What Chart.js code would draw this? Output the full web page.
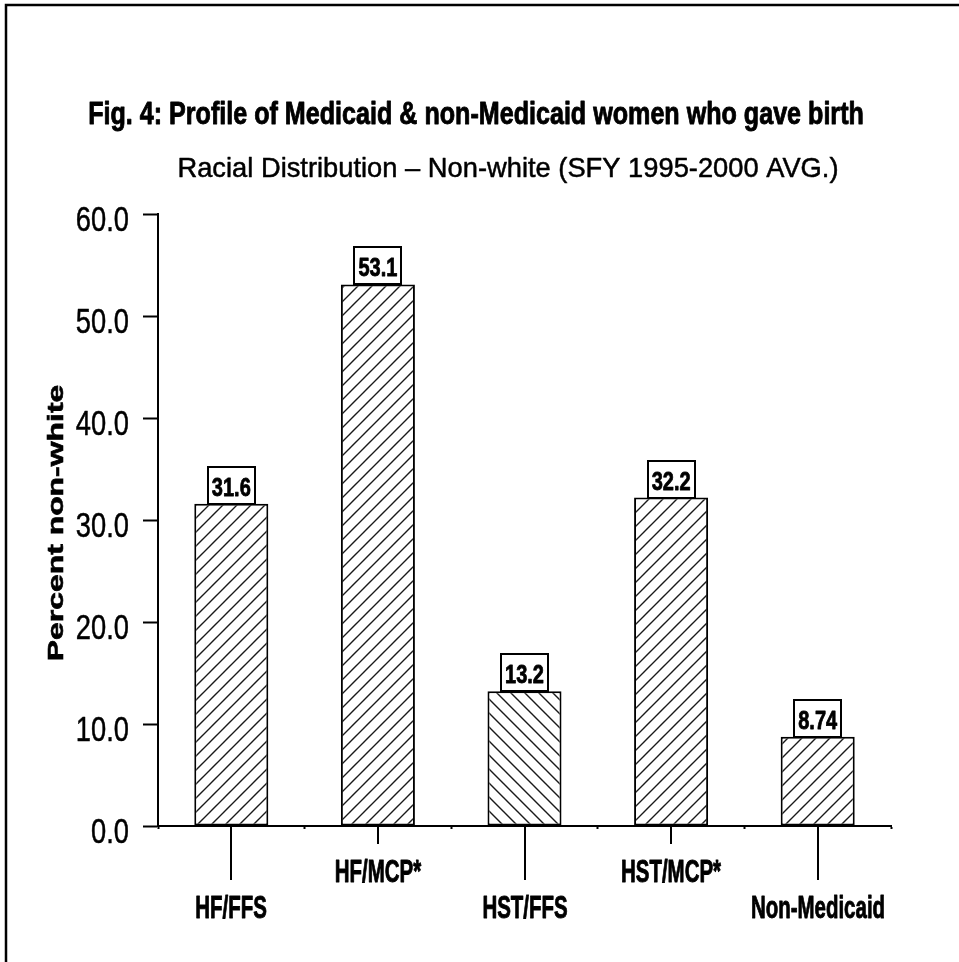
<!DOCTYPE html>
<html>
<head>
<meta charset="utf-8">
<script src="https://cdn.jsdelivr.net/npm/chart.js@4/dist/chart.umd.min.js"></script>
<style>
  html, body { margin: 0; padding: 0; background: #fff; }
  #wrap { width: 959px; height: 962px; }
</style>
</head>
<body>
<div id="wrap"><canvas id="chart" width="959" height="962"></canvas></div>
<script>
// Racial distribution, share of non-white mothers by payer group
const categories = ['HF/FFS', 'HF/MCP*', 'HST/FFS', 'HST/MCP*', 'Non-Medicaid'];
const percentNonWhite = [31.6, 53.1, 13.2, 32.2, 8.74];
const hatchDirection = ['/', '/', '\\', '/', '/'];
const yMin = 0;
const yMax = 60;
const yStep = 10;

const titleText = 'Fig. 4: Profile of Medicaid & non-Medicaid women who gave birth';
const subtitleText = 'Racial Distribution \u2013 Non-white (SFY 1995-2000 AVG.)';
const yTitle = 'Percent non-white';

const SANS = "'Liberation Sans', Arial, sans-serif";

// diagonal line fill for the bars
function makeHatch(dir) {
    const size = 14;
    const c = document.createElement('canvas');
    c.width = size;
    c.height = size;
    const g = c.getContext('2d');
    g.fillStyle = '#fff';
    g.fillRect(0, 0, size, size);
    g.strokeStyle = '#1a1a1a';
    g.lineWidth = 1.4;
    g.beginPath();
    if (dir === '/') {
        g.moveTo(-2, size + 2); g.lineTo(size + 2, -2);
        g.moveTo(-2, 2); g.lineTo(2, -2);
        g.moveTo(size - 2, size + 2); g.lineTo(size + 2, size - 2);
    } else {
        g.moveTo(-2, -2); g.lineTo(size + 2, size + 2);
        g.moveTo(size - 2, -2); g.lineTo(size + 2, 2);
        g.moveTo(-2, size - 2); g.lineTo(2, size + 2);
    }
    g.stroke();
    return g.createPattern(c, 'repeat');
}

// condensed lettering: squeeze the text horizontally around its anchor,
// optionally with a thin outline to make it heavier
function narrowText(ctx, text, x, y, font, sx, align, heavy) {
    ctx.save();
    ctx.translate(x, y);
    ctx.scale(sx, 1);
    ctx.font = font;
    ctx.fillStyle = '#000';
    ctx.textAlign = align;
    ctx.textBaseline = 'alphabetic';
    ctx.fillText(text, 0, 0);
    if (heavy) {
        ctx.strokeStyle = '#000';
        ctx.lineWidth = heavy;
        ctx.lineJoin = 'round';
        ctx.strokeText(text, 0, 0);
    }
    ctx.restore();
}

const framePlugin = {
    id: 'frame',
    beforeDraw(chart) {
        const ctx = chart.ctx;
        ctx.save();
        ctx.fillStyle = '#fff';
        ctx.fillRect(0, 0, chart.width, chart.height);
        ctx.strokeStyle = '#000';
        ctx.lineWidth = 2.5;
        ctx.beginPath();
        ctx.moveTo(6, chart.height);
        ctx.lineTo(6, 5);
        ctx.lineTo(chart.width, 5);
        ctx.stroke();
        ctx.restore();
    }
};

const headingPlugin = {
    id: 'heading',
    afterDraw(chart) {
        const ctx = chart.ctx;
        narrowText(ctx, titleText, 476, 124, 'bold 31px ' + SANS, 0.81, 'center', 0.9);
        narrowText(ctx, subtitleText, 508, 177, '28px ' + SANS, 0.975, 'center', 0.5);
    }
};

// axis lettering placed from the scales' own tick positions
const axisText = {
    id: 'axisText',
    afterDraw(chart) {
        const ctx = chart.ctx;
        const x = chart.scales.x;
        const y = chart.scales.y;

        y.ticks.forEach((t, i) => {
            const py = y.getPixelForTick(i);
            narrowText(ctx, t.value.toFixed(1), 129, py + 17, '35px ' + SANS, 0.78, 'right', 0.5);
        });

        ctx.save();
        ctx.strokeStyle = '#000';
        ctx.lineWidth = 2;
        categories.forEach((c, i) => {
            const px = Math.round(x.getPixelForTick(i));
            const low = i % 2 === 0;
            ctx.beginPath();
            ctx.moveTo(px, x.top);
            ctx.lineTo(px, x.top + (low ? 54 : 18));
            ctx.stroke();
            narrowText(ctx, c, px, low ? 918 : 882, 'bold 31px ' + SANS, 0.66, 'center', 0.9);
        });
        ctx.restore();

        // rotated axis title
        const mid = (y.top + y.bottom) / 2 + 3;
        ctx.save();
        ctx.translate(63, mid);
        ctx.rotate(-Math.PI / 2);
        ctx.scale(1.45, 1);
        ctx.font = 'bold 22px ' + SANS;
        ctx.fillStyle = '#000';
        ctx.strokeStyle = '#000';
        ctx.lineWidth = 0.6;
        ctx.textAlign = 'center';
        ctx.textBaseline = 'alphabetic';
        ctx.fillText(yTitle, 0, 0);
        ctx.strokeText(yTitle, 0, 0);
        ctx.restore();
    }
};

// boxed value above each bar
const valueBoxes = {
    id: 'valueBoxes',
    afterDatasetsDraw(chart) {
        const ctx = chart.ctx;
        const meta = chart.getDatasetMeta(0);
        meta.data.forEach((bar, i) => {
            const w = 47, h = 37;
            const left = Math.round(bar.x - w / 2);
            const top = Math.round(bar.y - h);
            ctx.save();
            ctx.fillStyle = '#fff';
            ctx.fillRect(left, top, w, h);
            ctx.strokeStyle = '#000';
            ctx.lineWidth = 2;
            ctx.strokeRect(left, top, w, h);
            ctx.restore();
            narrowText(ctx, String(percentNonWhite[i]), bar.x, bar.y - 8, 'bold 25px ' + SANS, 0.8, 'center', 0.8);
        });
    }
};

const ctx = document.getElementById('chart').getContext('2d');
new Chart(ctx, {
    type: 'bar',
    data: {
        labels: categories,
        datasets: [{
            data: percentNonWhite,
            backgroundColor: hatchDirection.map(makeHatch),
            borderColor: '#000',
            borderWidth: 2,
            borderSkipped: false,
            barPercentage: 0.505,
            categoryPercentage: 1
        }]
    },
    options: {
        responsive: false,
        animation: false,
        layout: {
            padding: { top: 214, right: 68, left: 0, bottom: 0 }
        },
        plugins: {
            legend: { display: false },
            tooltip: { enabled: false }
        },
        scales: {
            x: {
                grid: {
                    offset: true,
                    drawOnChartArea: false,
                    tickLength: 3,
                    tickColor: '#000',
                    tickWidth: 2
                },
                border: { color: '#000', width: 2 },
                ticks: { display: false },
                afterFit: s => { s.height = 136; }
            },
            y: {
                min: yMin,
                max: yMax,
                ticks: { stepSize: yStep, display: false },
                grid: {
                    drawOnChartArea: false,
                    tickLength: 15,
                    tickColor: '#000',
                    tickWidth: 2
                },
                border: { color: '#000', width: 2 },
                afterFit: s => { s.width = 158; }
            }
        }
    },
    plugins: [framePlugin, headingPlugin, axisText, valueBoxes]
});
</script>
</body>
</html>
